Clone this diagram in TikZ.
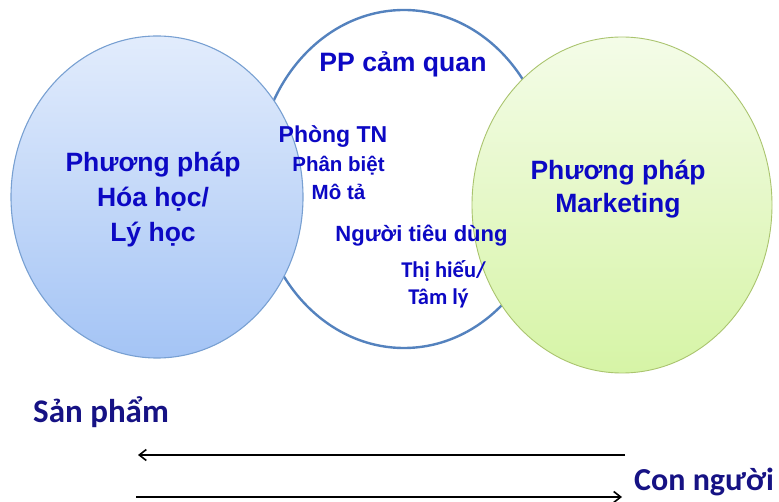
\documentclass[tikz,border=0pt]{standalone}
\usepackage{fontspec}
\setmainfont{Liberation Sans}
\newfontfamily\calfont{Carlito}
\usetikzlibrary{shapes.geometric,arrows.meta}
\definecolor{txtblue}{RGB}{12,8,196}
\definecolor{navy}{RGB}{22,18,132}
\definecolor{midring}{RGB}{84,130,190}
\definecolor{leftring}{RGB}{120,160,210}
\definecolor{lefttop}{RGB}{226,236,252}
\definecolor{leftbot}{RGB}{164,196,245}
\definecolor{rightring}{RGB}{170,196,110}
\definecolor{righttop}{RGB}{244,252,232}
\definecolor{rightbot}{RGB}{214,244,166}
\begin{document}
\begin{tikzpicture}[x=1pt,y=-1pt,
  blob/.style={ellipse,inner sep=0pt},
  lbl/.style={anchor=base,text=txtblue,font=\bfseries\fontsize{#1}{#1}\selectfont,inner sep=0pt},
  clbl/.style={anchor=base,text=txtblue,font=\calfont\bfseries\fontsize{#1}{#1}\selectfont,inner sep=0pt},
  axislbl/.style={anchor=base west,text=navy,font=\calfont\bfseries\fontsize{#1}{#1}\selectfont,inner sep=0pt},
  flow/.style={line width=2pt,-{Straight Barb[length=7pt,width=11pt,line width=1.6pt]}}]
\useasboundingbox (0,0) rectangle (779,502);

% sensory-method circle, partly hidden behind the two side circles
\node[blob,draw=midring,line width=2.4pt,fill=white,
      minimum width=294,minimum height=338] (pp) at (404,179) {};
% chemical/physical methods
\node[blob,draw=leftring,line width=1.1pt,top color=lefttop,bottom color=leftbot,
      minimum width=292,minimum height=322] (hoa) at (157,197) {};
% marketing methods
\node[blob,draw=rightring,line width=0.9pt,top color=righttop,bottom color=rightbot,
      minimum width=300,minimum height=336] (mkt) at (622,205) {};

% labels
\node[lbl=26.6] (t1) at (403,72) {PP cảm quan};
\node[lbl=26.5] (h1) at (153,172) {Phương pháp};
\node[lbl=26.5] (h2) at (153,207) {Hóa học/};
\node[lbl=26.5] (h3) at (153,242) {Lý học};
\node[lbl=26.5] (m1) at (618,180) {Phương pháp};
\node[lbl=26.5] (m2) at (618,213) {Marketing};
\node[lbl=23] (s1) at (333,143) {Phòng TN};
\node[lbl=20.5] (s2) at (338.5,172) {Phân biệt};
\node[lbl=20.5] (s3) at (338.5,200) {Mô tả};
\node[lbl=22] (s4) at (421.5,242) {Người tiêu dùng};
\node[clbl=22.5] (s5) at (443.5,278) {Thị hiếu/};
\node[clbl=22.5] (s6) at (438.5,305) {Tâm lý};

% axis captions and the two opposing arrows
\node[axislbl=33] (sp) at (33,422) {Sản phẩm};
\node[axislbl=32] (cn) at (634,490) {Con người};
\coordinate (a1) at (625,455);
\coordinate (a2) at (138,455);
\coordinate (b1) at (136,497);
\coordinate (b2) at (622,497);
\draw[flow] (a1) -- (a2);
\draw[flow] (b1) -- (b2);
\end{tikzpicture}
\end{document}
